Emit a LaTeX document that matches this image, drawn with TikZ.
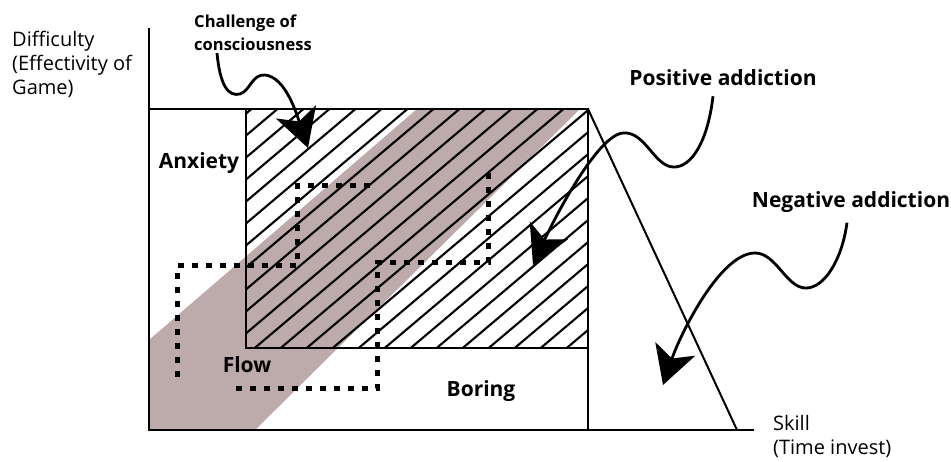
\documentclass[tikz,border=0pt]{standalone}
\usepackage{fontspec}
\setmainfont{Open Sans}
\usetikzlibrary{arrows.meta, positioning}
\definecolor{flowbrown}{RGB}{189,170,171}
\tikzset{
  axisline/.style={line width=2.6pt, draw=black},
  boxline/.style={line width=2.6pt, draw=black},
  hatchline/.style={line width=2.1pt, draw=black},
  dotpath/.style={line width=5pt, dash pattern=on 6pt off 8pt, draw=black},
  axislabel/.style={font=\fontsize{20}{24}\selectfont, align=left, inner sep=0pt},
  zone/.style={font=\fontsize{21}{24}\selectfont\bfseries, inner sep=0pt},
  note/.style={font=\fontsize{21}{24}\selectfont\bfseries, inner sep=0pt},
  wave/.style={line width=2.8pt, -{Stealth[length=38pt, width=42pt, inset=10pt]}}
}

\begin{document}
\begin{tikzpicture}[x=1pt, y=-1pt]
  \useasboundingbox (0,0) rectangle (951,462);

  % flow channel
  \begin{scope}
    \clip (149,109) rectangle (588,430);
    \fill[flowbrown] (149,340) -- (417,109) -- (580,109) -- (255,430) -- (149,430) -- cycle;
  \end{scope}
  \begin{scope}
    \clip (246,109) rectangle (588,348);
    \foreach \k in {0,...,26}
      \draw[hatchline] ({-62+26*\k},352) -- ++(291,-246);
  \end{scope}

  \draw[dotpath] (177,377) -- (177,266) -- (297,266) -- (297,186) -- (373,186);
  \draw[dotpath] (236,389) -- (377,389) -- (377,263) -- (488,263) -- (488,167);

  \draw[axisline] (149,28) -- (149,430) -- (754,430);
  \draw[boxline] (149,109) -- (588,109) -- (588,430);
  \draw[boxline] (246,109) -- (246,348) -- (588,348);
  \draw[line width=2pt] (588,109) -- (737,430);

  \node[axislabel, anchor=west] (difficulty) at (12,64) {Difficulty\\(Effectivity of\\Game)};
  \node[axislabel, anchor=west] (skill) at (773,436) {Skill\\(Time invest)};
  \node[zone] (anxiety) at (199,163) {Anxiety};
  \node[zone] (flow) at (247,365) {Flow};
  \node[zone] (boring) at (481,391) {Boring};
  \node[note, align=left, font=\fontsize{16.5}{23}\selectfont\bfseries] (challenge) at (253,33) {Challenge of\\consciousness};
  \node[note] (positive) at (723,78) {Positive addiction};
  \node[note] (negative) at (851,202) {Negative addiction};

  \coordinate (challengetip) at (308,148);
  \coordinate (positivetip) at (533,265);
  \coordinate (negativetip) at (663,385);

  \draw[wave] ([xshift=-36pt,yshift=-2pt]challenge.south) .. controls (220,85) and (228,97) .. (240,94)
    .. controls (250,91) and (252,74) .. (265,75) .. controls (285,77) and (296,112) .. (challengetip);
  \draw[wave] ([xshift=-10pt,yshift=-10pt]positive.south) .. controls (708,140) and (692,168) .. (673,167)
    .. controls (654,166) and (645,131) .. (623,133) .. controls (598,135) and (556,215) .. (positivetip);
  \draw[wave] ([xshift=-4pt,yshift=-10pt]negative.south) .. controls (842,260) and (824,289) .. (805,288)
    .. controls (786,287) and (776,253) .. (755,253) .. controls (720,253) and (680,335) .. (negativetip);
\end{tikzpicture}
\end{document}
